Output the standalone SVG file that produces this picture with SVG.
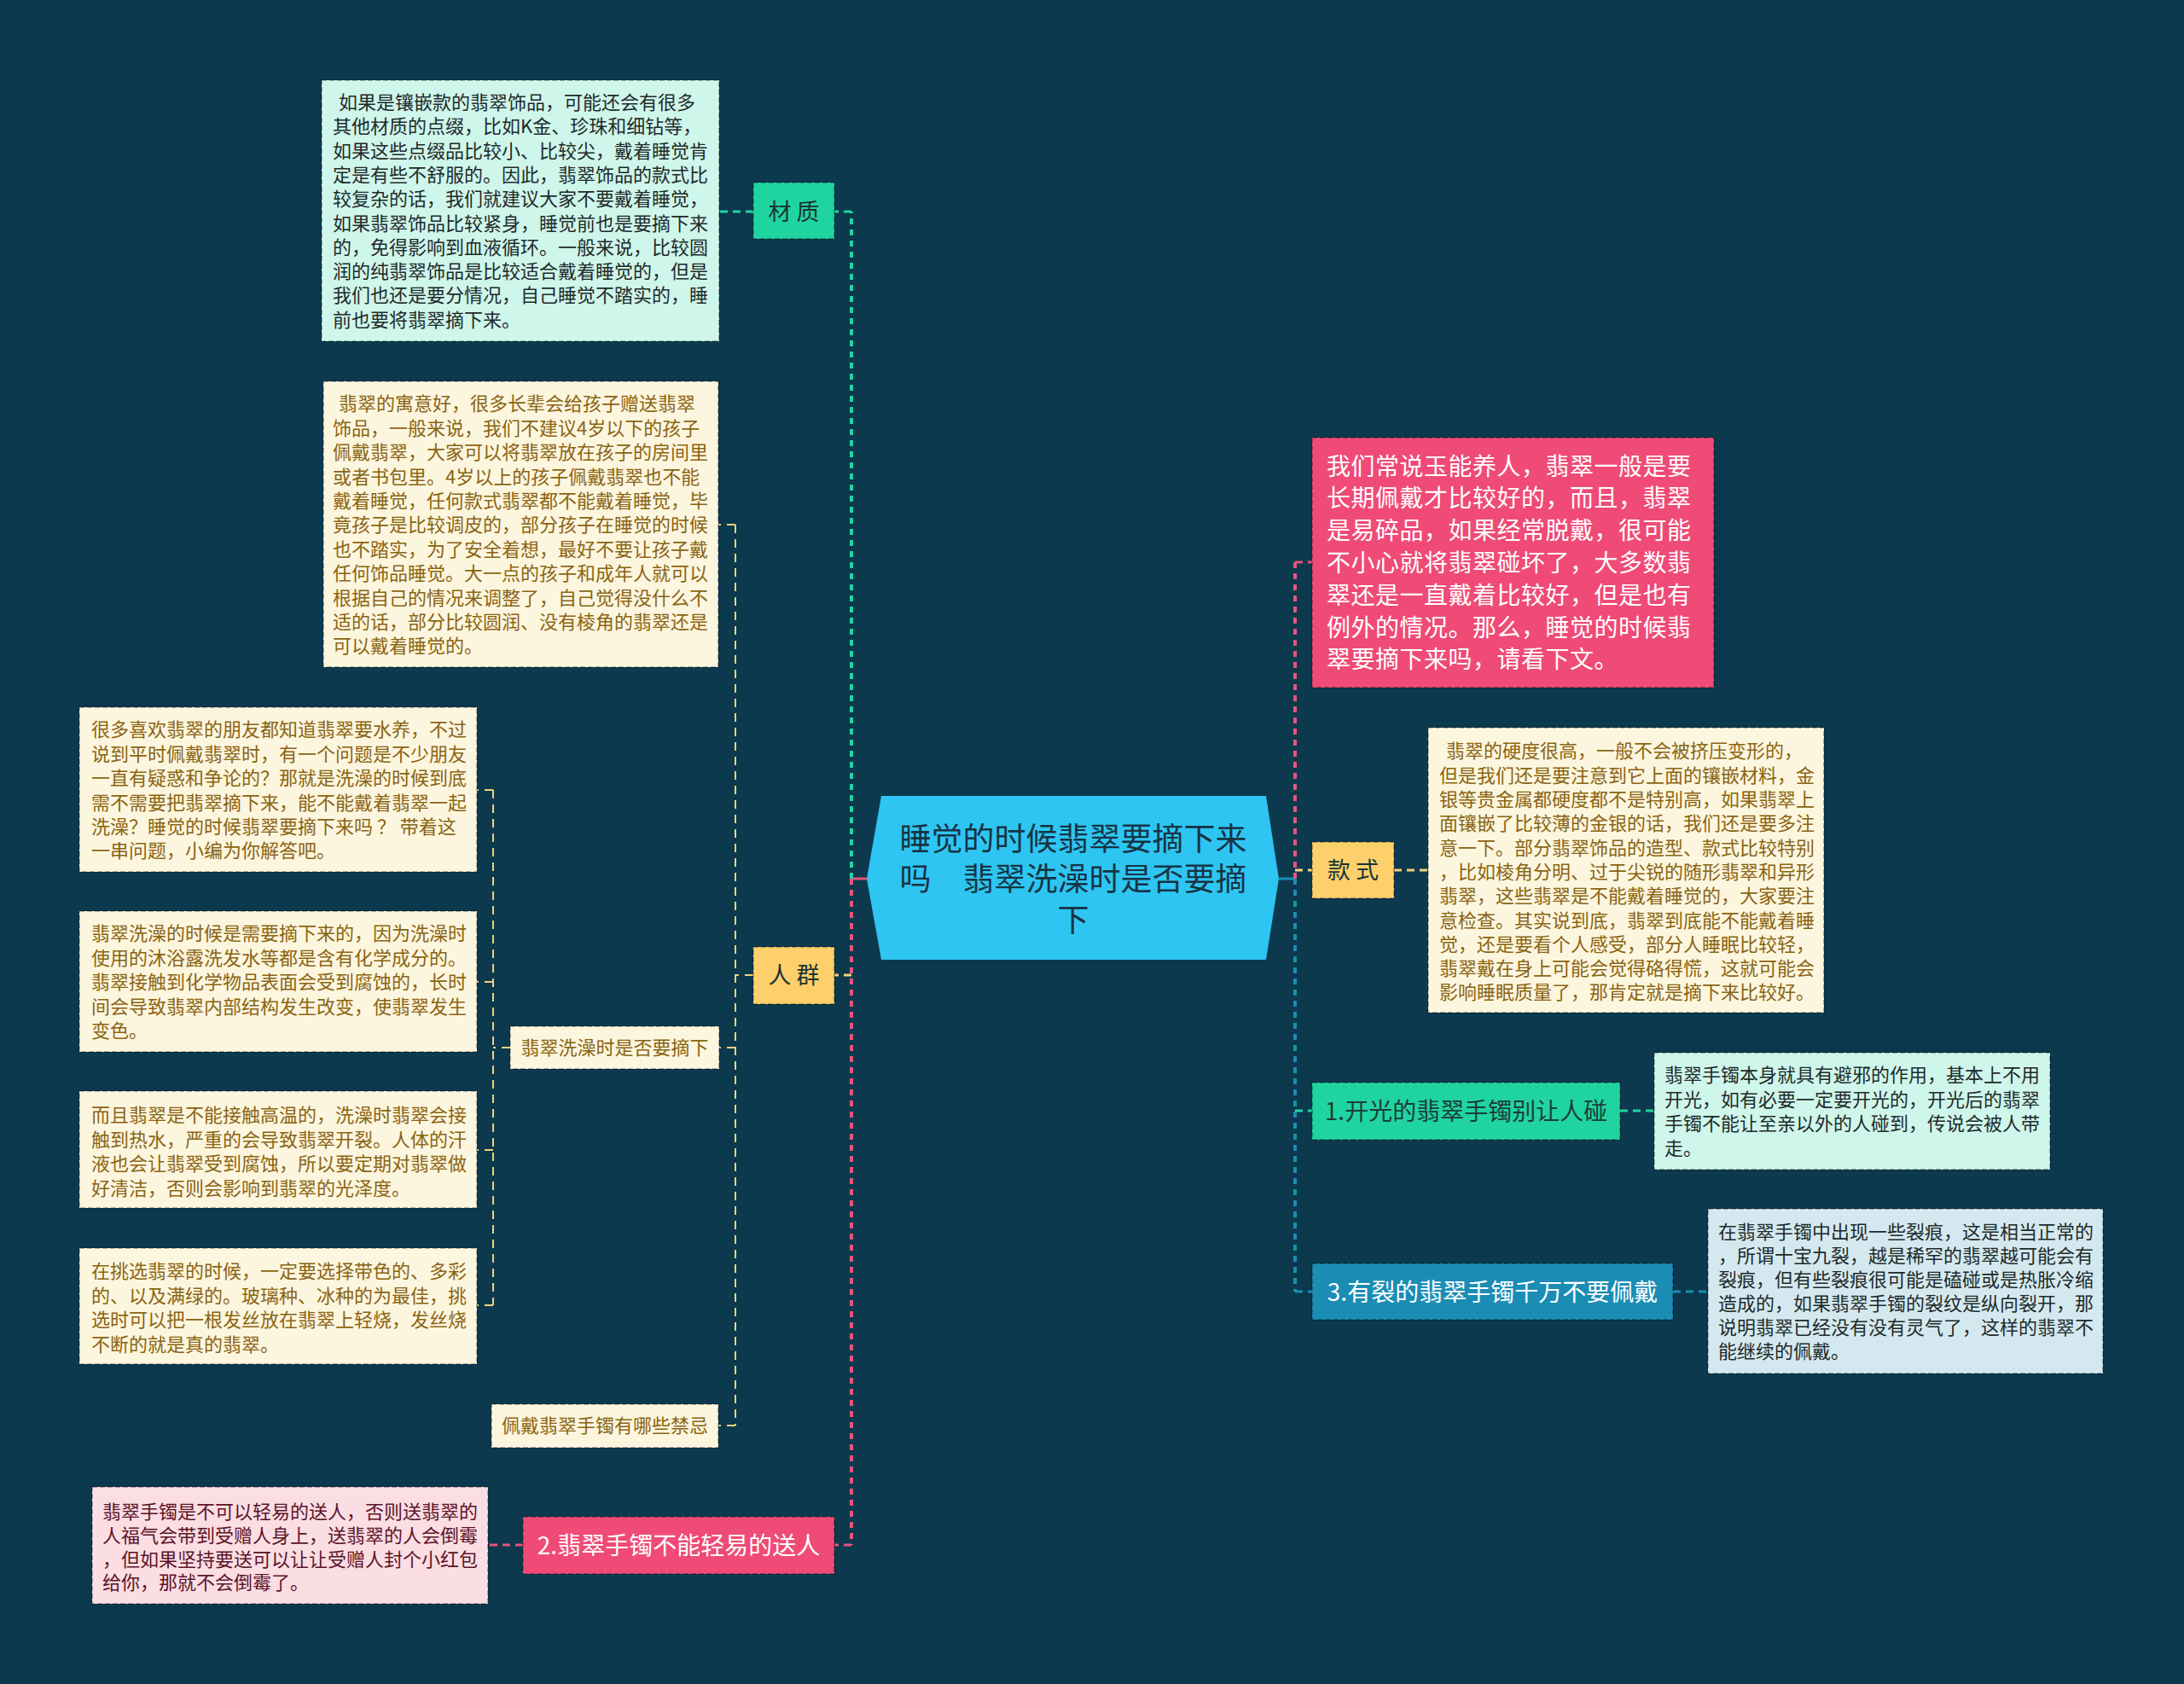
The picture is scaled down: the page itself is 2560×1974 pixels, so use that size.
<svg xmlns="http://www.w3.org/2000/svg" width="2560" height="1974" viewBox="0 0 2560 1974">
<style>
text{font-family:"Noto Sans CJK SC","Noto Sans",sans-serif;}
.bd{stroke:rgba(0,0,0,0.28);stroke-width:2;stroke-dasharray:6 3;}
.t22{font-size:22px;}
.gold{fill:#8a6412;}
.dark{fill:#1e2a2a;}
.maroon{fill:#5c1426;}
.cream{fill:#fdf6df;}
.mint{fill:#cff6ea;}
.lpink{fill:#fbdde4;}
.lblue{fill:#d4e9ef;}
.green{fill:#20d4a1;}
.yellow{fill:#fdd06b;}
.pink{fill:#ef4b76;}
.blue{fill:#1b8db5;}
.lbl{font-size:27px;fill:#1b3334;text-anchor:middle;}
.big{font-size:28px;text-anchor:middle;}
.c{fill:none;stroke-linecap:butt;}
.cg{stroke:#20d4a1;}
.cp{stroke:#e8537c;}
.cy{stroke:#f1d27a;}
.cb{stroke:#1b8db5;}
.w4{stroke-width:4;stroke-dasharray:7 6;}
.w3{stroke-width:3;stroke-dasharray:9 6;}
.w2{stroke-width:2;stroke-dasharray:10 7;}
</style>
<rect width="2560" height="1974" fill="#0c394d"/>

<g id="connectors">
  <line class="c cp" x1="998" y1="1030" x2="1017" y2="1030" stroke-width="3"/>
  <line class="c cg w4" x1="998" y1="1030" x2="998" y2="248"/>
  <line class="c cp w4" x1="998" y1="1030" x2="998" y2="1811"/>
  <line class="c cg w3" x1="998" y1="248" x2="978" y2="248"/>
  <line class="c cy w3" x1="998" y1="1143" x2="978" y2="1143"/>
  <line class="c cp w3" x1="998" y1="1811" x2="978" y2="1811"/>
  <line class="c cg w3" x1="883" y1="248" x2="843" y2="248"/>
  <line class="c cy w2" x1="862" y1="615" x2="862" y2="1671"/>
  <line class="c cy w2" x1="883" y1="1143" x2="862" y2="1143"/>
  <line class="c cy w2" x1="862" y1="615" x2="842" y2="615"/>
  <line class="c cy w2" x1="862" y1="1228" x2="843" y2="1228"/>
  <line class="c cy w2" x1="862" y1="1671" x2="842" y2="1671"/>
  <line class="c cy w2" x1="578" y1="926" x2="578" y2="1530"/>
  <line class="c cy w2" x1="598" y1="1228" x2="578" y2="1228"/>
  <line class="c cy w2" x1="578" y1="926" x2="559" y2="926"/>
  <line class="c cy w2" x1="578" y1="1151" x2="559" y2="1151"/>
  <line class="c cy w2" x1="578" y1="1348" x2="559" y2="1348"/>
  <line class="c cy w2" x1="578" y1="1530" x2="559" y2="1530"/>
  <line class="c cp w3" x1="613" y1="1811" x2="572" y2="1811"/>
  <line class="c cb" x1="1499" y1="1030" x2="1518" y2="1030" stroke-width="3"/>
  <line class="c cp w4" x1="1518" y1="1030" x2="1518" y2="659"/>
  <line class="c cb w4" x1="1518" y1="1030" x2="1518" y2="1514"/>
  <line class="c cp w3" x1="1518" y1="659" x2="1538" y2="659"/>
  <line class="c cy w3" x1="1518" y1="1020" x2="1538" y2="1020"/>
  <line class="c cg w3" x1="1518" y1="1302" x2="1538" y2="1302"/>
  <line class="c cb w3" x1="1518" y1="1514" x2="1538" y2="1514"/>
  <line class="c cy w3" x1="1634" y1="1020" x2="1674" y2="1020"/>
  <line class="c cg w3" x1="1899" y1="1302" x2="1939" y2="1302"/>
  <line class="c cb w3" x1="1961" y1="1514" x2="2002" y2="1514"/>
</g>

<g id="root">
  <polygon points="1016,1030 1033,933 1484,933 1499,1030 1484,1125 1033,1125" fill="#2ec5f2"/>
  <text font-size="37" fill="#163444" text-anchor="middle"><tspan x="1258" y="997">睡觉的时候翡翠要摘下来</tspan><tspan x="1258" y="1044">吗　翡翠洗澡时是否要摘</tspan><tspan x="1258" y="1092">下</tspan></text>
</g>

<g id="n-material">
  <rect class="green bd" x="883" y="214" width="95" height="66"/>
  <text class="lbl" x="930.5" y="258">材 质</text>
</g>
<g id="n-material-text">
  <rect class="mint bd" x="377" y="94" width="466" height="306"/>
  <text class="t22 dark"><tspan x="397" y="128">如果是镶嵌款的翡翠饰品，可能还会有很多</tspan><tspan x="390" y="156.3">其他材质的点缀，比如K金、珍珠和细钻等，</tspan><tspan x="390" y="184.6">如果这些点缀品比较小、比较尖，戴着睡觉肯</tspan><tspan x="390" y="212.9">定是有些不舒服的。因此，翡翠饰品的款式比</tspan><tspan x="390" y="241.2">较复杂的话，我们就建议大家不要戴着睡觉，</tspan><tspan x="390" y="269.5">如果翡翠饰品比较紧身，睡觉前也是要摘下来</tspan><tspan x="390" y="297.8">的，免得影响到血液循环。一般来说，比较圆</tspan><tspan x="390" y="326.1">润的纯翡翠饰品是比较适合戴着睡觉的，但是</tspan><tspan x="390" y="354.4">我们也还是要分情况，自己睡觉不踏实的，睡</tspan><tspan x="390" y="382.7">前也要将翡翠摘下来。</tspan></text>
</g>

<g id="n-crowd">
  <rect class="yellow bd" x="883" y="1110" width="95" height="67"/>
  <text class="lbl" x="930.5" y="1153">人 群</text>
</g>
<g id="n-crowd-text">
  <rect class="cream bd" x="379" y="447" width="463" height="335"/>
  <text class="t22 gold"><tspan x="397" y="481.4">翡翠的寓意好，很多长辈会给孩子赠送翡翠</tspan><tspan x="390" y="509.8">饰品，一般来说，我们不建议4岁以下的孩子</tspan><tspan x="390" y="538.2">佩戴翡翠，大家可以将翡翠放在孩子的房间里</tspan><tspan x="390" y="566.6">或者书包里。4岁以上的孩子佩戴翡翠也不能</tspan><tspan x="390" y="595">戴着睡觉，任何款式翡翠都不能戴着睡觉，毕</tspan><tspan x="390" y="623.4">竟孩子是比较调皮的，部分孩子在睡觉的时候</tspan><tspan x="390" y="651.8">也不踏实，为了安全着想，最好不要让孩子戴</tspan><tspan x="390" y="680.2">任何饰品睡觉。大一点的孩子和成年人就可以</tspan><tspan x="390" y="708.6">根据自己的情况来调整了，自己觉得没什么不</tspan><tspan x="390" y="737">适的话，部分比较圆润、没有棱角的翡翠还是</tspan><tspan x="390" y="765.4">可以戴着睡觉的。</tspan></text>
</g>
<g id="n-bath">
  <rect class="cream bd" x="598" y="1203" width="245" height="50"/>
  <text class="t22 gold" x="720.5" y="1236.4" text-anchor="middle">翡翠洗澡时是否要摘下</text>
</g>
<g id="n-bath-1">
  <rect class="cream bd" x="93" y="829" width="466" height="193"/>
  <text class="t22 gold"><tspan x="107" y="863.4">很多喜欢翡翠的朋友都知道翡翠要水养，不过</tspan><tspan x="107" y="891.8">说到平时佩戴翡翠时，有一个问题是不少朋友</tspan><tspan x="107" y="920.2">一直有疑惑和争论的？那就是洗澡的时候到底</tspan><tspan x="107" y="948.6">需不需要把翡翠摘下来，能不能戴着翡翠一起</tspan><tspan x="107" y="977">洗澡？睡觉的时候翡翠要摘下来吗 ？ 带着这</tspan><tspan x="107" y="1005.4">一串问题，小编为你解答吧。</tspan></text>
</g>
<g id="n-bath-2">
  <rect class="cream bd" x="93" y="1068" width="466" height="165"/>
  <text class="t22 gold"><tspan x="107" y="1102.4">翡翠洗澡的时候是需要摘下来的，因为洗澡时</tspan><tspan x="107" y="1130.8">使用的沐浴露洗发水等都是含有化学成分的。</tspan><tspan x="107" y="1159.2">翡翠接触到化学物品表面会受到腐蚀的，长时</tspan><tspan x="107" y="1187.6">间会导致翡翠内部结构发生改变，使翡翠发生</tspan><tspan x="107" y="1216">变色。</tspan></text>
</g>
<g id="n-bath-3">
  <rect class="cream bd" x="93" y="1279" width="466" height="137"/>
  <text class="t22 gold"><tspan x="107" y="1315.4">而且翡翠是不能接触高温的，洗澡时翡翠会接</tspan><tspan x="107" y="1343.8">触到热水，严重的会导致翡翠开裂。人体的汗</tspan><tspan x="107" y="1372.2">液也会让翡翠受到腐蚀，所以要定期对翡翠做</tspan><tspan x="107" y="1400.6">好清洁，否则会影响到翡翠的光泽度。</tspan></text>
</g>
<g id="n-bath-4">
  <rect class="cream bd" x="93" y="1463" width="466" height="136"/>
  <text class="t22 gold"><tspan x="107" y="1498.4">在挑选翡翠的时候，一定要选择带色的、多彩</tspan><tspan x="107" y="1526.8">的、以及满绿的。玻璃种、冰种的为最佳，挑</tspan><tspan x="107" y="1555.2">选时可以把一根发丝放在翡翠上轻烧，发丝烧</tspan><tspan x="107" y="1583.6">不断的就是真的翡翠。</tspan></text>
</g>
<g id="n-taboo">
  <rect class="cream bd" x="576" y="1646" width="266" height="51"/>
  <text class="t22 gold" x="709" y="1679.4" text-anchor="middle">佩戴翡翠手镯有哪些禁忌</text>
</g>

<g id="n-gift">
  <rect class="pink bd" x="613" y="1778" width="365" height="67"/>
  <text class="big" x="795.5" y="1821.6" fill="#ffffff">2.翡翠手镯不能轻易的送人</text>
</g>
<g id="n-gift-text">
  <rect class="lpink bd" x="108" y="1743" width="464" height="137"/>
  <text class="t22 maroon"><tspan x="120" y="1780.4">翡翠手镯是不可以轻易的送人，否则送翡翠的</tspan><tspan x="120" y="1808">人福气会带到受赠人身上，送翡翠的人会倒霉</tspan><tspan x="120" y="1835.6">，但如果坚持要送可以让让受赠人封个小红包</tspan><tspan x="120" y="1863.2">给你，那就不会倒霉了。</tspan></text>
</g>

<g id="n-intro">
  <rect class="pink bd" x="1538" y="513" width="471" height="293"/>
  <text font-size="28" fill="#ffffff" letter-spacing="0.5"><tspan x="1555" y="556.6">我们常说玉能养人，翡翠一般是要</tspan><tspan x="1555" y="594.4">长期佩戴才比较好的，而且，翡翠</tspan><tspan x="1555" y="632.2">是易碎品，如果经常脱戴，很可能</tspan><tspan x="1555" y="670">不小心就将翡翠碰坏了，大多数翡</tspan><tspan x="1555" y="707.8">翠还是一直戴着比较好，但是也有</tspan><tspan x="1555" y="745.6">例外的情况。那么，睡觉的时候翡</tspan><tspan x="1555" y="783.4">翠要摘下来吗，请看下文。</tspan></text>
</g>

<g id="n-style">
  <rect class="yellow bd" x="1538" y="987" width="96" height="66"/>
  <text class="lbl" x="1586" y="1030">款 式</text>
</g>
<g id="n-style-text">
  <rect class="cream bd" x="1674" y="853" width="464" height="334"/>
  <text class="t22 gold"><tspan x="1695" y="888.4">翡翠的硬度很高，一般不会被挤压变形的，</tspan><tspan x="1687" y="916.7">但是我们还是要注意到它上面的镶嵌材料，金</tspan><tspan x="1687" y="945">银等贵金属都硬度都不是特别高，如果翡翠上</tspan><tspan x="1687" y="973.3">面镶嵌了比较薄的金银的话，我们还是要多注</tspan><tspan x="1687" y="1001.6">意一下。部分翡翠饰品的造型、款式比较特别</tspan><tspan x="1687" y="1029.9">，比如棱角分明、过于尖锐的随形翡翠和异形</tspan><tspan x="1687" y="1058.2">翡翠，这些翡翠是不能戴着睡觉的，大家要注</tspan><tspan x="1687" y="1086.5">意检查。其实说到底，翡翠到底能不能戴着睡</tspan><tspan x="1687" y="1114.8">觉，还是要看个人感受，部分人睡眠比较轻，</tspan><tspan x="1687" y="1143.1">翡翠戴在身上可能会觉得硌得慌，这就可能会</tspan><tspan x="1687" y="1171.4">影响睡眠质量了，那肯定就是摘下来比较好。</tspan></text>
</g>

<g id="n-open">
  <rect class="green bd" x="1538" y="1269" width="361" height="67"/>
  <text class="big" x="1718.5" y="1312.6" fill="#1c3d3a">1.开光的翡翠手镯别让人碰</text>
</g>
<g id="n-open-text">
  <rect class="mint bd" x="1939" y="1234" width="464" height="137"/>
  <text class="t22 dark"><tspan x="1951" y="1268.4">翡翠手镯本身就具有避邪的作用，基本上不用</tspan><tspan x="1951" y="1296.9">开光，如有必要一定要开光的，开光后的翡翠</tspan><tspan x="1951" y="1325.4">手镯不能让至亲以外的人碰到，传说会被人带</tspan><tspan x="1951" y="1353.9">走。</tspan></text>
</g>

<g id="n-crack">
  <rect class="blue bd" x="1538" y="1481" width="423" height="66"/>
  <text class="big" x="1749.5" y="1524.6" fill="#ffffff">3.有裂的翡翠手镯千万不要佩戴</text>
</g>
<g id="n-crack-text">
  <rect class="lblue bd" x="2002" y="1417" width="463" height="193"/>
  <text class="t22 dark"><tspan x="2014" y="1452.4">在翡翠手镯中出现一些裂痕，这是相当正常的</tspan><tspan x="2014" y="1480.4">，所谓十宝九裂，越是稀罕的翡翠越可能会有</tspan><tspan x="2014" y="1508.4">裂痕，但有些裂痕很可能是磕碰或是热胀冷缩</tspan><tspan x="2014" y="1536.4">造成的，如果翡翠手镯的裂纹是纵向裂开，那</tspan><tspan x="2014" y="1564.4">说明翡翠已经没有没有灵气了，这样的翡翠不</tspan><tspan x="2014" y="1592.4">能继续的佩戴。</tspan></text>
</g>
</svg>
